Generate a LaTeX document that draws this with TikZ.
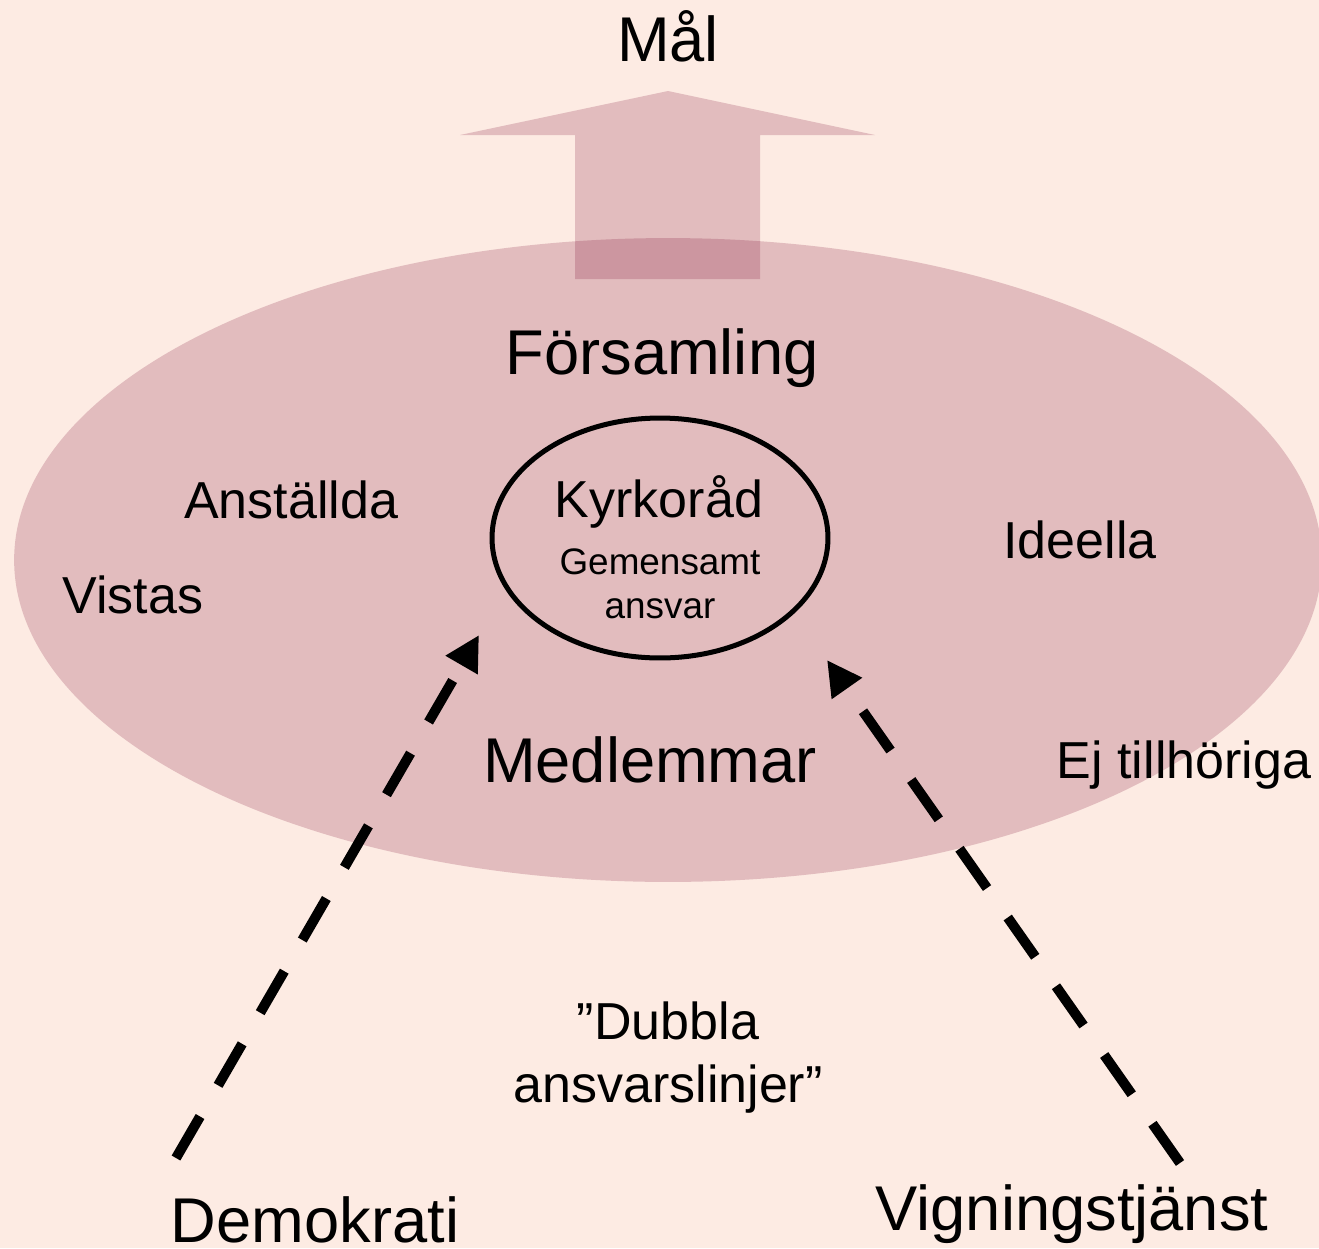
\documentclass[tikz,border=0pt]{standalone}
\usepackage{fontspec}
\setmainfont{Liberation Sans}
\usetikzlibrary{positioning, shapes.geometric, arrows.meta}
\definecolor{bakgrund}{RGB}{253,235,227}
\definecolor{rosa}{RGB}{118,0,42}
\tikzstyle{stor} = [font=\fontsize{36}{42}\selectfont, anchor=base, inner sep=0pt]
\tikzstyle{mellan} = [font=\fontsize{29.6}{35.3}\selectfont, anchor=base, inner sep=0pt, align=center]
\tikzstyle{liten} = [font=\fontsize{21}{24.5}\selectfont, anchor=base, inner sep=0pt, align=center]
\tikzstyle{yta} = [fill=rosa, fill opacity=0.2]
\tikzstyle{ring} = [ellipse, draw=black, line width=2.85pt, minimum width=6.72cm, minimum height=4.8cm]
\tikzstyle{arrow} = [line width=5.7pt, dash pattern=on 27.3pt off 20.5pt, -{Triangle[length=19.8pt,width=19.8pt]}]

\begin{document}
\begin{tikzpicture}[x=0.02cm, y=-0.02cm]
			%bakgrund och ytor
			\fill[bakgrund] (0,0) rectangle (1319,1248);
			\useasboundingbox (0,0) rectangle (1319,1248);
			\fill[yta] (668,560) ellipse (13.08cm and 6.44cm);
			\fill[yta] (575,279) -- (575,135) -- (460,135) -- (668,91) -- (875,135) -- (760,135) -- (760,279) -- cycle;
			
			%texter
			\node (mal) [stor] at (668,61) {Mål};
			\node (forsamling) [stor] at (662,374) {Församling};
			\node (medlemmar) [stor] at (650,782) {Medlemmar};
			\node (demokrati) [stor] at (315,1242) {Demokrati};
			\node (vigning) [stor] at (1072,1230) {Vigningstjänst};
			\node (anstallda) [mellan] at (291,518) {Anställda};
			\node (vistas) [mellan] at (133,613) {Vistas};
			\node (ideella) [mellan] at (1080,558) {Ideella};
			\node (ejtillhoriga) [mellan] at (1184,778) {Ej tillhöriga};
			\node (dubbla) [mellan] at (668,1102) {”Dubbla\\ansvarslinjer”};
			\node (radcirkel) [ring] at (660,538) {};
			\node (kyrkorad) [mellan] at (659,517) {Kyrkoråd};
			\node (gemensamt) [liten] at (660,618) {Gemensamt\\ansvar};
			
			%streckade pilar
			\coordinate (demstart) at (176,1158);
			\coordinate (demslut) at (479,635);
			\coordinate (vigstart) at (1180,1163);
			\coordinate (vigslut) at (827,660);
			\draw [arrow](demstart) -- (demslut);
			\draw [arrow](vigstart) -- (vigslut);
		\end{tikzpicture}
\end{document}
